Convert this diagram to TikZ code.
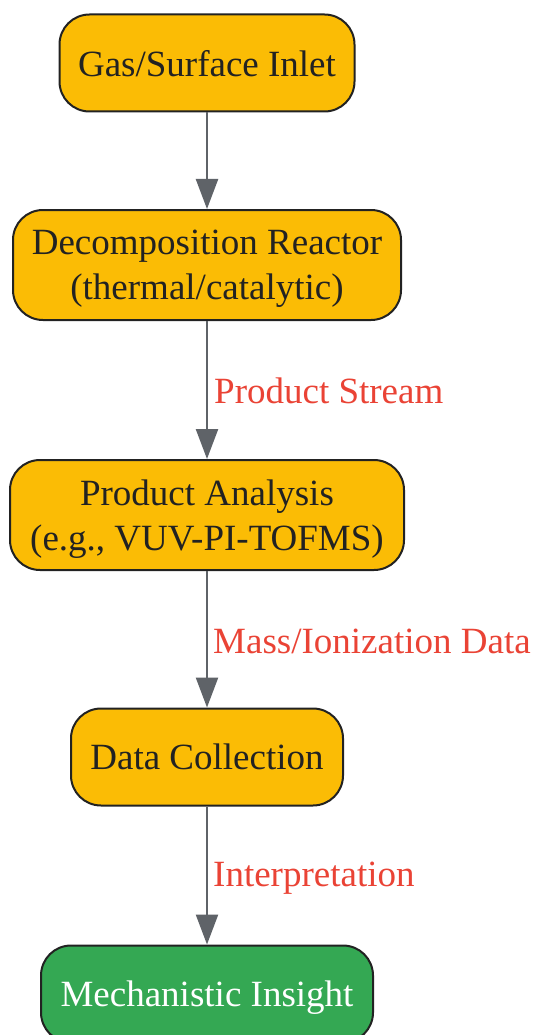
\documentclass[tikz,border=0pt]{standalone}
\usepackage{fontspec}
\setmainfont{Liberation Serif}
\usepackage{xcolor}
\usetikzlibrary{arrows.meta}
\definecolor{boxyellow}{HTML}{FBBC05}
\definecolor{boxgreen}{HTML}{34A853}
\definecolor{flowgray}{HTML}{5F6368}
\definecolor{labelred}{HTML}{EA4335}
\definecolor{inkdark}{HTML}{222222}

\begin{document}
\begin{tikzpicture}[x=1pt,y=-1pt,
  stage/.style={draw=inkdark, line width=2pt, fill=boxyellow, rounded corners=30pt,
    text=inkdark, align=center, inner sep=0pt, text depth=0pt,
    font=\fontsize{37}{45}\selectfont},
  outcome/.style={stage, fill=boxgreen, text=white},
  flow/.style={draw=flowgray, line width=2.4pt, -{Triangle[length=30pt,width=22pt]}},
  flowlabel/.style={text=labelred, anchor=west, inner sep=0pt,
    font=\fontsize{37}{42}\selectfont}]
\useasboundingbox (0,0) rectangle (535,1035);
\fill [white] (0,0) rectangle (535,1035);
% stages
\node [stage, minimum width=295pt, minimum height=97pt] (inlet) at (207,63) {Gas/Surface Inlet};
\node [stage, minimum width=388pt, minimum height=110pt] (reactor) at (207,265) {Decomposition Reactor\\(thermal/catalytic)};
\node [stage, minimum width=394pt, minimum height=110pt] (analysis) at (207,515) {Product Analysis\\(e.g., VUV-PI-TOFMS)};
\node [stage, minimum width=272pt, minimum height=97pt] (collect) at (207,757) {Data Collection};
\node [outcome, minimum width=332pt, minimum height=97pt] (insight) at (207,994) {Mechanistic Insight};
% connectors
\draw [flow] (inlet) -- (reactor);
\draw [flow] (reactor) -- (analysis);
\draw [flow] (analysis) -- (collect);
\draw [flow] (collect) -- (insight);
% labels
\node [flowlabel] (streamlbl) at (214,391) {Product Stream};
\node [flowlabel] (masslbl) at (213,641) {Mass/Ionization Data};
\node [flowlabel] (interplbl) at (213,878) {Interpretation};
\end{tikzpicture}
\end{document}
